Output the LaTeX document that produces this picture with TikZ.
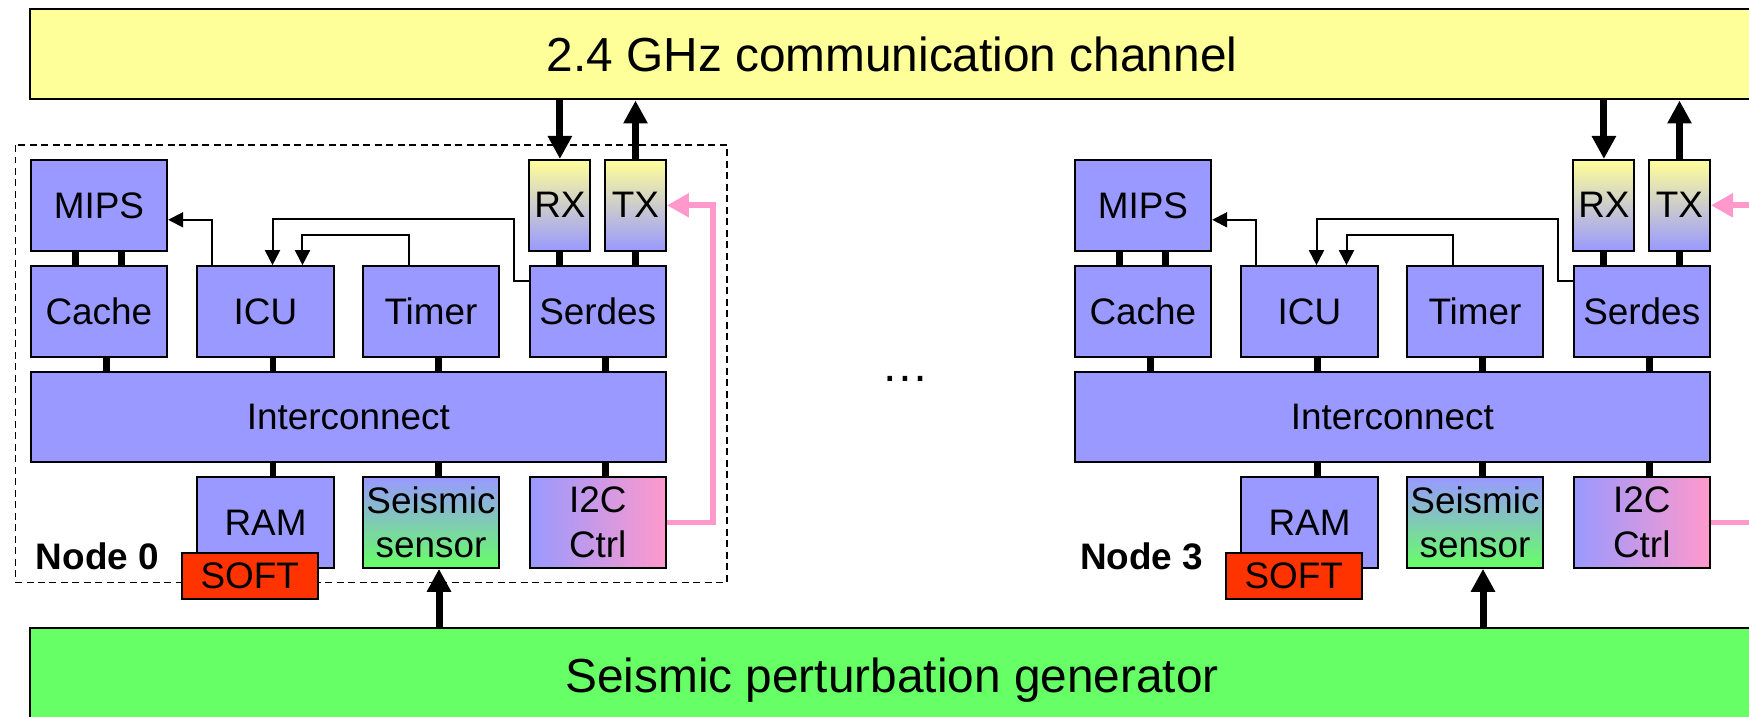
\documentclass[tikz,border=0pt]{standalone}
\usepackage{fontspec}
\setmainfont{Liberation Sans}
\usetikzlibrary{arrows.meta,positioning}

\definecolor{boxblue}{HTML}{9999FF}
\definecolor{chanyellow}{HTML}{FFFF99}
\definecolor{gengreen}{HTML}{66FF66}
\definecolor{softred}{HTML}{FF3300}
\definecolor{i2cpink}{HTML}{FF99CC}

\newcommand{\boxfont}{\fontsize{21}{25.3}\selectfont}
\newcommand{\barfont}{\fontsize{27.2}{32}\selectfont}

\tikzset{
  blk/.style={draw, line width=0.04cm, fill=boxblue, inner sep=0pt,
    minimum width=2.73cm, minimum height=1.814cm, align=center, font=\boxfont},
  thin/.style={blk, minimum width=1.22cm, top color=chanyellow,
    bottom color=boxblue, middle color=chanyellow!50!boxblue},
  bar/.style={draw, line width=0.04cm, inner sep=0pt, text depth=0pt,
    minimum width=34.48cm, font=\barfont},
  bus/.style={line width=0.14cm},
  bigarrow/.style={line width=0.14cm, -{Triangle[length=0.46cm,width=0.46cm]}},
  sig/.style={line width=0.04cm, -{Triangle[length=0.3cm,width=0.3cm]}},
  pinkline/.style={line width=0.115cm, draw=i2cpink,
    -{Triangle[length=0.44cm,width=0.46cm]}}
}

\begin{document}
\begin{tikzpicture}[x=0.02cm, y=-0.02cm]
  \useasboundingbox (0,0) rectangle (1749,717);
  \clip (0,0) rectangle (1749,717);

  % channel and generator
  \node[bar, fill=chanyellow, minimum height=1.81cm] (chan) at (892,54.25)
    {2.4 GHz communication channel};
  \node[bar, fill=gengreen, minimum height=1.874cm] (gen) at (892,675.15)
    {Seismic perturbation generator};

  % frame round node 0
  \draw[line width=0.03cm, dash pattern=on 0.14cm off 0.09cm]
    (15.6,145) rectangle (727,582.5);

  \node[font=\barfont, anchor=base] (dots) at (905.5,381) {…};

  \foreach \n/\dx in {0/0, 3/1044} {
    % top row
    \node[blk] (mips\n) at ({\dx+98.9},205.3) {MIPS};
    \node[thin] (rx\n) at ({\dx+559.9},205.3) {RX};
    \node[thin] (tx\n) at ({\dx+635.5},205.3) {TX};
    % second row
    \node[blk] (cache\n) at ({\dx+98.9},311.5) {Cache};
    \node[blk] (icu\n) at ({\dx+265.5},311.5) {ICU};
    \node[blk] (timer\n) at ({\dx+431},311.5) {Timer};
    \node[blk] (serdes\n) at ({\dx+597.75},311.5) {Serdes};
    % bus
    \node[blk, minimum width=12.706cm] (ic\n) at ({\dx+348.35},417) {Interconnect};
    % bottom row
    \node[blk] (ram\n) at ({\dx+265.5},522.5) {RAM};
    \node[blk, top color=boxblue, bottom color=gengreen] (sensor\n)
      at ({\dx+431},522.5) {Seismic\\sensor};
    \node[blk, left color=boxblue, right color=i2cpink] (i2c\n)
      at ({\dx+597.75},522.5) {I2C\\Ctrl};
    \node[blk, fill=softred, minimum width=2.72cm, minimum height=0.92cm]
      (soft\n) at ({\dx+249.7},575.7) {SOFT};
    \node[font=\boxfont\bfseries] (lbl\n) at ({\dx+97.5},556) {Node \n};

    % bus links
    \draw[bus] ([xshift=-0.46cm]mips\n.south) -- ([xshift=-0.46cm]cache\n.north);
    \draw[bus] ([xshift=0.45cm]mips\n.south) -- ([xshift=0.45cm]cache\n.north);
    \foreach \b in {cache,icu,timer,serdes}
      \draw[bus] ([xshift=0.15cm]\b\n.south) -- ([xshift=0.15cm]\b\n.south |- ic\n.north);
    \foreach \b in {ram,sensor,i2c}
      \draw[bus] ([xshift=0.15cm]\b\n.north |- ic\n.south) -- ([xshift=0.15cm]\b\n.north);
    \draw[bus] (rx\n.south) -- (rx\n.south |- serdes\n.north);
    \draw[bus] (tx\n.south) -- (tx\n.south |- serdes\n.north);

    % radio and sensor arrows
    \draw[bigarrow] (rx\n.north |- chan.south) -- (rx\n.north);
    \draw[bigarrow] (tx\n.north) -- (tx\n.north |- chan.south);
    \draw[bigarrow] ([xshift=0.16cm]sensor\n.south |- gen.north) -- ([xshift=0.16cm]sensor\n.south);

    % interrupt lines
    \draw[sig] ([xshift=0.31cm]icu\n.north west) |- ([yshift=-0.29cm]mips\n.east);
    \draw[sig] ([yshift=-0.31cm]serdes\n.north west) -- ++(-0.3cm,0)
      |- ([xshift=0.14cm,yshift=0.92cm]icu\n.north) -- ([xshift=0.14cm]icu\n.north);
    \draw[sig] ([xshift=-0.45cm]timer\n.north)
      |- ([xshift=0.74cm,yshift=0.61cm]icu\n.north) -- ([xshift=0.74cm]icu\n.north);

    % I2C to TX
    \draw[pinkline] (i2c\n.east) -- ++(0.92cm,0) |- (tx\n.east);
  }
\end{tikzpicture}
\end{document}
